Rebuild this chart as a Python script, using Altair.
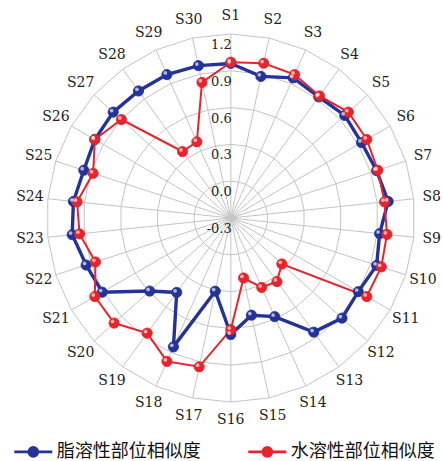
import altair as alt
import pandas as pd

# Samples S1..S30 arranged clockwise from the top
categories = ["S1", "S2", "S3", "S4", "S5", "S6", "S7", "S8", "S9", "S10",
              "S11", "S12", "S13", "S14", "S15", "S16", "S17", "S18", "S19", "S20",
              "S21", "S22", "S23", "S24", "S25", "S26", "S27", "S28", "S29", "S30"]

# Similarity of the lipophilic fraction
lipo_sim = [0.96, 0.88, 0.95, 0.92, 0.95, 0.93, 0.95, 0.99, 0.92, 0.95,
            0.90, 0.92, 0.85, 0.58, 0.51, 0.65, 0.31, 0.85, 0.45, 0.59,
            0.91, 0.94, 1.00, 0.99, 0.96, 0.98, 0.99, 0.98, 0.98, 0.97]

# Similarity of the water-soluble fraction
aqua_sim = [0.97, 0.99, 0.98, 0.93, 0.99, 0.98, 0.96, 0.96, 0.98, 0.99,
            0.98, 0.26, 0.34, 0.32, 0.20, 0.61, 0.94, 0.98, 0.86, 0.98,
            0.98, 0.86, 0.94, 0.96, 0.88, 0.98, 0.90, 0.37, 0.38, 0.83]

series_names = ["脂溶性部位相似度", "水溶性部位相似度"]
series_colors = ["#23339a", "#e8232b"]
series_widths = [3.4, 2.0]

ticks = [-0.3, 0.0, 0.3, 0.6, 0.9, 1.2]
tick_labels = ["-0.3", "0.0", "0.3", "0.6", "0.9", "1.2"]

N = len(categories)
R_MIN, R_MAX = ticks[0], ticks[-1]
LABEL_R = 1.098  # category labels sit just outside the outer ring (normalised radius)
SERIF = "DejaVu Serif"

# ---- tables -------------------------------------------------------------
rows = []
for name, vals in zip(series_names, [lipo_sim, aqua_sim]):
    for i, v in enumerate(vals):
        rows.append({"series": name, "cat": categories[i], "idx": i, "value": v})
    # close the polygon back at S1
    rows.append({"series": name, "cat": categories[0], "idx": N, "value": vals[0]})
series_df = pd.DataFrame(rows)
points_df = series_df[series_df["idx"] < N]

rings_df = pd.DataFrame([{"ring": t, "idx": i, "value": t}
                         for t in ticks[1:] for i in range(N + 1)])
spokes_df = pd.DataFrame({"idx": list(range(N)), "value": [R_MAX] * N})
cat_df = pd.DataFrame({"idx": list(range(N)), "cat": categories})
tick_df = pd.DataFrame({"idx": [0] * len(ticks), "value": ticks, "label": tick_labels})

xs = alt.Scale(domain=[-1, 1], nice=False, zero=False)
ys = alt.Scale(domain=[-1, 1], nice=False, zero=False)
X = alt.X("px:Q", scale=xs, axis=None)
Y = alt.Y("py:Q", scale=ys, axis=None)

radial = f"(datum.value - ({R_MIN})) / ({R_MAX - R_MIN})"


def polar(chart, rexpr):
    return chart.transform_calculate(
        rn=rexpr, ang=f"datum.idx * 2 * PI / {N}"
    ).transform_calculate(
        px="datum.rn * sin(datum.ang)", py="datum.rn * cos(datum.ang)"
    )


grid_color = "#c4c4c4"

rings = polar(alt.Chart(rings_df).mark_line(color=grid_color, strokeWidth=1), radial).encode(
    x=X, y=Y, detail="ring:N", order="idx:Q"
)

spokes = polar(alt.Chart(spokes_df).mark_rule(color=grid_color, strokeWidth=1), radial).transform_calculate(
    ox="0", oy="0"
).encode(
    x=alt.X("ox:Q", scale=xs, axis=None), y=alt.Y("oy:Q", scale=ys, axis=None),
    x2="px:Q", y2="py:Q"
)

tick_text = polar(alt.Chart(tick_df).mark_text(
    align="right", baseline="middle", dx=1, dy=11,
    font=SERIF, fontSize=13, color="#222222"
), radial).encode(x=X, y=Y, text="label:N")

cat_text = polar(alt.Chart(cat_df).mark_text(
    align="center", baseline="middle",
    font=SERIF, fontSize=14, color="#222222"
), str(LABEL_R)).encode(x=X, y=Y, text="cat:N")

# one closed polyline per series, blue underneath red
lines = [
    polar(alt.Chart(series_df).transform_filter(alt.datum.series == name)
          .mark_line(color=col, strokeWidth=w), radial).encode(x=X, y=Y, order="idx:Q")
    for name, col, w in zip(series_names, series_colors, series_widths)
]

color_scale = alt.Scale(domain=series_names, range=series_colors)

legend = alt.Legend(
    title=None, orient="none", direction="horizontal", columns=2,
    legendX=-34, legendY=397, padding=0,
    symbolType="M-1,0L1,0M-0.24,0A0.24,0.24 0 1,1 0.24,0A0.24,0.24 0 1,1 -0.24,0Z",
    symbolSize=1444, symbolStrokeWidth=2.6,
    labelFont="Noto Sans CJK SC", labelFontSize=18, labelColor="#111111",
    labelOffset=3, columnPadding=42,
)

points = polar(alt.Chart(points_df).mark_circle(size=105, opacity=1, strokeWidth=0.8), radial).encode(
    x=X, y=Y,
    fill=alt.Fill("series:N", scale=color_scale, legend=legend),
    stroke=alt.Stroke("series:N", scale=color_scale, legend=legend),
)

# small specular highlight to give the markers a rounded look
shine = polar(alt.Chart(points_df).mark_circle(
    size=14, color="white", opacity=0.65, xOffset=-1.6, yOffset=-1.6
), radial).encode(x=X, y=Y)

chart = alt.layer(rings, spokes, tick_text, cat_text, *lines, points, shine).properties(
    width=368, height=368,
    padding={"left": 46.8, "top": 34, "right": 28.2, "bottom": 59},
    autosize=alt.AutoSizeParams(type="none"),
    background="white",
).configure_view(stroke=None)

chart.save("out.html", embed_options={"renderer": "svg", "actions": False})
